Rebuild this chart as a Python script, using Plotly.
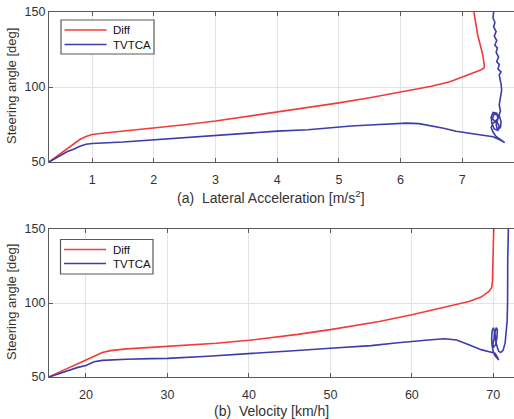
import plotly.graph_objects as go

# ---- (a) Lateral acceleration vs steering angle ----
acc_diff = [0.3, 0.4, 0.5, 0.6, 0.7, 0.8, 0.9, 1.0, 1.2, 1.5, 2.0, 2.5, 3.0, 3.5, 4.0, 4.5,
            5.0, 5.5, 6.0, 6.5, 6.8, 7.0, 7.2, 7.3, 7.35, 7.36, 7.33, 7.25, 7.19]
ang_diff_a = [50, 53, 56, 59, 62, 65, 67, 68.3, 69.3, 70.5, 72.6, 74.8, 77.3, 80.2, 83.3, 86.3,
              89.4, 92.8, 96.6, 100.5, 103.5, 106.5, 109.5, 111.3, 112.5, 114, 122, 135, 150]

acc_tvtca = [0.3, 0.4, 0.5, 0.6, 0.7, 0.8, 0.9, 1.0, 1.5, 2.0, 2.5, 3.0, 3.5, 4.0, 4.5, 4.7,
             4.9, 5.2, 5.5, 5.8, 6.1, 6.3, 6.5, 6.7, 6.9, 7.1, 7.3, 7.5, 7.6, 7.69,
             7.6, 7.54, 7.5, 7.47, 7.5, 7.56, 7.6, 7.58, 7.52, 7.48, 7.47, 7.5, 7.56, 7.58,
             7.53, 7.49, 7.52, 7.6, 7.63, 7.62, 7.57, 7.55, 7.59, 7.62, 7.6, 7.62, 7.64, 7.63,
             7.61, 7.6, 7.63, 7.58, 7.6, 7.56, 7.59, 7.55, 7.57, 7.53, 7.56, 7.52, 7.55, 7.51,
             7.53, 7.5, 7.51]
ang_tvtca_a = [50, 52.5, 55, 57, 58.5, 60.5, 61.8, 62.3, 63.3, 64.8, 66.4, 68, 69.3, 70.6, 71.5, 72.3,
               73.2, 74, 74.7, 75.4, 75.9, 75.6, 74.3, 72.5, 70.5, 69.3, 68.2, 66.8, 65, 62.9,
               65.5, 67.5, 70, 73, 76, 77, 74, 71, 72, 76, 80, 83, 82.5, 79,
               77, 79, 82, 81, 77, 73, 71.5, 75, 80, 84, 88, 93, 98, 102,
               105, 108, 110, 112, 115, 117, 120, 123, 126, 128, 131, 134, 137, 140,
               143, 146, 150]

# ---- (b) Velocity vs steering angle ----
vel_diff = [15.46, 16, 17, 18, 19, 20, 20.5, 21, 22, 23, 25, 28, 30, 33, 36, 40, 43, 46, 50, 53,
            56, 60, 63, 65, 67, 68.5, 69.5, 69.8, 69.9, 70.05]
ang_diff_b = [50, 51.5, 54, 56.5, 59, 61.5, 63, 64.5, 66.5, 67.8, 69, 70, 70.7, 71.6, 72.8, 74.8,
              76.6, 78.8, 82, 84.6, 87.5, 92, 95.7, 98.2, 101, 104, 108, 110.5, 115, 150]

vel_tvtca = [15.46, 16, 17, 18, 19, 20, 20.5, 21, 22, 23, 25, 28, 30, 35, 40, 45, 50, 53, 55, 58,
             60, 62, 64, 65.5, 67, 68.5, 69.5, 70.2, 70.5, 70.66,
             70.5, 70.2, 70.0, 69.85, 69.8, 69.85, 70.0, 70.15, 70.1, 69.95, 70.0, 70.3, 70.45,
             70.5, 70.35, 70.2, 70.3, 70.5, 70.65, 70.9, 71.2, 71.45, 71.6, 71.7, 71.75, 71.75,
             71.77, 71.85]
ang_tvtca_b = [50, 51, 53, 54.8, 56.5, 57.8, 59, 60.3, 61.2, 61.6, 62, 62.4, 62.6, 64, 65.6, 67.6,
               69.4, 70.4, 71.2, 73, 74.2, 75, 75.8, 75, 71.8, 68.5, 67, 66, 63.5, 61.5,
               62.5, 64.5, 67, 71, 76, 81, 83.3, 81, 76, 72, 70, 72, 77,
               82, 83.3, 80, 74, 70, 67.5, 66.5, 68, 73, 80, 88, 100, 115,
               130, 150]

series_names = ["Diff", "TVTCA"]

RED = "#f23a3a"
BLUE = "#3c3cab"
TXT = "#333333"
FONT = "Liberation Sans, Arial, sans-serif"
H = 419
W_PLOT = 465
L = 49

def px_x(p):
    return (p - L) / W_PLOT

def px_y(p):
    return (H - p) / H

fig = go.Figure()
fig.add_trace(go.Scatter(x=acc_diff, y=ang_diff_a, mode="lines", name=series_names[0],
                         line=dict(color=RED, width=1.6)))
fig.add_trace(go.Scatter(x=acc_tvtca, y=ang_tvtca_a, mode="lines", name=series_names[1],
                         line=dict(color=BLUE, width=1.6)))
fig.add_trace(go.Scatter(x=vel_diff, y=ang_diff_b, mode="lines", name=series_names[0],
                         line=dict(color=RED, width=1.6), xaxis="x2", yaxis="y2"))
fig.add_trace(go.Scatter(x=vel_tvtca, y=ang_tvtca_b, mode="lines", name=series_names[1],
                         line=dict(color=BLUE, width=1.6), xaxis="x2", yaxis="y2"))

axcommon = dict(showgrid=True, gridcolor="#e3e3e3", gridwidth=1, zeroline=False,
                showline=True, linecolor="#5a5a5a", linewidth=1.2,
                ticks="inside", ticklen=4, tickcolor="#5a5a5a",
                tickfont=dict(family=FONT, size=12.5, color=TXT))

shapes = []
annotations = []

# legend boxes drawn manually (box px: left, top, right, bottom; line rows y)
legends = [
    dict(box=(61, 20, 154, 54), rows=(30, 44.5), linex=(64.5, 106.5), textx=111),
    dict(box=(60.5, 239.5, 153, 274), rows=(249.5, 263.5), linex=(64, 106), textx=110.5),
]
for lg in legends:
    x0, y0, x1, y1 = lg["box"]
    shapes.append(dict(type="rect", xref="paper", yref="paper",
                       x0=px_x(x0), x1=px_x(x1), y0=px_y(y1), y1=px_y(y0),
                       line=dict(color="#5a5a5a", width=1.2), fillcolor="white", layer="above"))
    for name, col, ry in zip(series_names, [RED, BLUE], lg["rows"]):
        shapes.append(dict(type="line", xref="paper", yref="paper",
                           x0=px_x(lg["linex"][0]), x1=px_x(lg["linex"][1]),
                           y0=px_y(ry), y1=px_y(ry),
                           line=dict(color=col, width=1.6), layer="above"))
        annotations.append(dict(text=name, xref="paper", yref="paper",
                                x=px_x(lg["textx"]), y=px_y(ry), xanchor="left", yanchor="middle",
                                showarrow=False,
                                font=dict(family=FONT, size=11.5, color="#111111")))

annotations += [
    dict(text="Steering angle [deg]", textangle=-90, xref="paper", yref="paper",
         x=px_x(11), y=px_y(86), xanchor="center", yanchor="middle",
         showarrow=False, font=dict(family=FONT, size=13, color=TXT)),
    dict(text="Steering angle [deg]", textangle=-90, xref="paper", yref="paper",
         x=px_x(11), y=px_y(302), xanchor="center", yanchor="middle",
         showarrow=False, font=dict(family=FONT, size=13, color=TXT)),
    dict(text="(a)  Lateral Acceleration [m/s<sup>2</sup>]", xref="paper", yref="paper",
         x=px_x(271), y=px_y(197), xanchor="center", yanchor="middle",
         showarrow=False, font=dict(family=FONT, size=14, color=TXT)),
    dict(text="(b)  Velocity [km/h]", xref="paper", yref="paper",
         x=px_x(271), y=px_y(411), xanchor="center", yanchor="middle",
         showarrow=False, font=dict(family=FONT, size=14, color=TXT)),
]

fig.update_layout(
    width=514, height=H,
    margin=dict(l=L, r=0, t=0, b=0, autoexpand=False),
    paper_bgcolor="white", plot_bgcolor="white",
    showlegend=False,
    xaxis=dict(domain=[0, 1], range=[0.3, 7.84], tickvals=[1, 2, 3, 4, 5, 6, 7],
               anchor="y", mirror="ticks", ticklabelstandoff=6, **axcommon),
    yaxis=dict(domain=[px_y(162), px_y(12)], range=[50, 150], tickvals=[50, 100, 150],
               anchor="x", **axcommon),
    xaxis2=dict(domain=[0, 1], range=[15.46, 72.54], tickvals=[20, 30, 40, 50, 60, 70],
                anchor="y2", mirror="ticks", ticklabelstandoff=6, **axcommon),
    yaxis2=dict(domain=[px_y(377), px_y(229)], range=[50, 150], tickvals=[50, 100, 150],
                anchor="x2", **axcommon),
    shapes=shapes,
    annotations=annotations,
)

fig.write_html("out.html")
